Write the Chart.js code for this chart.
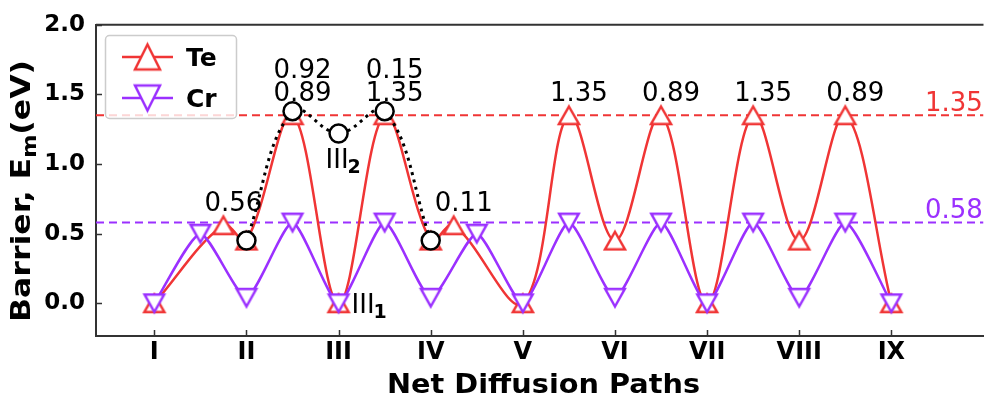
<!DOCTYPE html>
<html>
<head>
<meta charset="utf-8">
<script src="https://cdn.jsdelivr.net/npm/chart.js@4/dist/chart.umd.min.js"></script>
<style>
    html, body { margin: 0; padding: 0; background: #fff; overflow: hidden; }
    canvas { display: block; }
</style>
</head>
<body>
<canvas id="chart" width="996" height="397" style="width:996px;height:397px"></canvas>
<script>
const paths = ["I", "II", "III", "IV", "V", "VI", "VII", "VIII", "IX"];
const yTicks = [0, 0.5, 1.0, 1.5, 2.0];

const teX = [0, 0.75, 1, 1.5, 2, 2.5, 3, 3.25, 4, 4.5, 5, 5.5, 6, 6.5, 7, 7.5, 8];
const teE = [0, 0.56, 0.45, 1.35, 0, 1.35, 0.45, 0.56, 0, 1.35, 0.45, 1.35, 0, 1.35, 0.45, 1.35, 0];
const crX = [0, 0.5, 1, 1.5, 2, 2.5, 3, 3.5, 4, 4.5, 5, 5.5, 6, 6.5, 7, 7.5, 8];
const crE = [0, 0.5, 0.04, 0.58, 0, 0.58, 0.04, 0.5, 0, 0.58, 0.04, 0.58, 0, 0.58, 0.04, 0.58, 0];
const pathX = [1, 1.5, 2, 2.5, 3];
const pathE = [0.45, 1.38, 1.22, 1.38, 0.45];

const teRef = 1.35;
const crRef = 0.58;

// barrier labels sitting over Te points
const noteX = [0.75, 1.5, 2.5, 3.25, 4.5, 5.5, 6.5, 7.5];
const noteLow = ["0.56", "0.89", "1.35", "0.11", "1.35", "0.89", "1.35", "0.89"];
const noteHigh = ["", "0.92", "0.15", "", "", "", "", ""];

const xMin = -0.633, xMax = 9.0;
const yMin = -0.235, yMax = 2.0;

const red = "#f03535";
const purple = "#9b30ff";
const font = "DejaVu Sans";

function triangleMarker(w, h, up, color, lw) {
    let c = document.createElement("canvas");
    c.width = Math.ceil(w + lw * 4);
    c.height = Math.ceil(h + lw * 4);
    let g = c.getContext("2d");
    let cx = c.width / 2, cy = c.height / 2;
    g.beginPath();
    if (up) {
        g.moveTo(cx, cy - h / 2);
        g.lineTo(cx + w / 2, cy + h / 2);
        g.lineTo(cx - w / 2, cy + h / 2);
    } else {
        g.moveTo(cx, cy + h / 2);
        g.lineTo(cx + w / 2, cy - h / 2);
        g.lineTo(cx - w / 2, cy - h / 2);
    }
    g.closePath();
    g.fillStyle = "#fff";
    g.fill();
    g.lineWidth = lw;
    g.strokeStyle = color;
    g.stroke();
    return c;
}

const teMark = triangleMarker(20, 17.5, true, red, 2.5);
const crMark = triangleMarker(19.5, 17.5, false, purple, 2.5);
const teBig = triangleMarker(25, 25, true, red, 2.5);
const crBig = triangleMarker(25, 25, false, purple, 2.5);

function pts(xs, ys) {
    return xs.map((v, i) => ({ x: v, y: ys[i] }));
}

// draws text pieces squeezed/stretched to a given length, centred on the origin
function drawFitted(ctx, parts, length) {
    let total = 0;
    parts.forEach(p => { ctx.font = p[1]; p.w = ctx.measureText(p[0]).width; total += p.w; });
    ctx.scale(length / total, 1);
    let x = -total / 2;
    ctx.textAlign = "left";
    ctx.textBaseline = "alphabetic";
    parts.forEach(p => {
        ctx.font = p[1];
        ctx.fillText(p[0], x, p[2]);
        x += p.w;
    });
}

const overlay = {
    id: "overlay",
    afterDatasetsDraw(chart) {
        let ctx = chart.ctx;
        let a = chart.chartArea;
        let xs = chart.scales.x, ys = chart.scales.y;
        ctx.save();

        // top spine and inward ticks
        ctx.strokeStyle = "#333";
        ctx.lineWidth = 2;
        ctx.beginPath();
        ctx.moveTo(a.left, a.top);
        ctx.lineTo(a.right, a.top);
        ctx.stroke();
        ctx.lineWidth = 1.5;
        ctx.beginPath();
        xs.ticks.forEach(t => {
            let px = Math.round(xs.getPixelForValue(t.value)) + 0.5;
            ctx.moveTo(px, a.bottom);
            ctx.lineTo(px, a.bottom - 6);
        });
        ys.ticks.forEach(t => {
            let py = Math.round(ys.getPixelForValue(t.value)) + 0.5;
            ctx.moveTo(a.left, py);
            ctx.lineTo(a.left + 6, py);
        });
        ctx.stroke();

        // value labels
        ctx.fillStyle = "#000";
        ctx.font = "26px " + font;
        ctx.textAlign = "center";
        ctx.textBaseline = "alphabetic";
        noteX.forEach((nx, i) => {
            let v = teE[teX.indexOf(nx)];
            let px = xs.getPixelForValue(nx) + 10;
            let py = ys.getPixelForValue(v) - 14;
            ctx.fillText(noteLow[i], px, py);
            if (noteHigh[i]) ctx.fillText(noteHigh[i], px, py - 23);
        });

        // site labels III2 and III1
        let sites = [
            [pathX[2], pathE[2], -13, 35, "2"],
            [teX[4], teE[4], 13, 10, "1"]
        ];
        sites.forEach(s => {
            let px = xs.getPixelForValue(s[0]) + s[2];
            let py = ys.getPixelForValue(s[1]) + s[3];
            ctx.textAlign = "left";
            ctx.font = "26px " + font;
            ctx.fillText(paths[2], px, py);
            let w = ctx.measureText(paths[2]).width;
            ctx.font = "bold 19px " + font;
            ctx.fillText(s[4], px + w - 1, py + 5);
        });

        // reference values on the right
        ctx.font = "26px " + font;
        ctx.textAlign = "left";
        ctx.fillStyle = red;
        ctx.fillText(teRef.toFixed(2), 925, ys.getPixelForValue(teRef) - 4);
        ctx.fillStyle = purple;
        ctx.fillText(crRef.toFixed(2), 925, ys.getPixelForValue(crRef) - 5);

        // legend
        ctx.beginPath();
        ctx.roundRect(105.5, 35.5, 131, 83, 4);
        ctx.fillStyle = "rgba(255,255,255,0.8)";
        ctx.fill();
        ctx.strokeStyle = "#cccccc";
        ctx.lineWidth = 1.5;
        ctx.stroke();
        let entries = [[chart.data.datasets[2].label, red, teBig, 57], [chart.data.datasets[3].label, purple, crBig, 98]];
        entries.forEach(e => {
            ctx.strokeStyle = e[1];
            ctx.lineWidth = 2.5;
            ctx.beginPath();
            ctx.moveTo(122, e[3]);
            ctx.lineTo(173, e[3]);
            ctx.stroke();
            ctx.drawImage(e[2], 147.5 - e[2].width / 2, e[3] - e[2].height / 2);
            ctx.fillStyle = "#000";
            ctx.font = "bold 25px " + font;
            ctx.textAlign = "left";
            ctx.fillText(e[0], 186, e[3] + 9);
        });

        // axis titles
        ctx.fillStyle = "#000";
        ctx.save();
        ctx.translate(543.5, 393);
        drawFitted(ctx, [["Net Diffusion Paths", "bold 27px " + font, 0]], 313);
        ctx.restore();
        ctx.save();
        ctx.translate(30, 191);
        ctx.rotate(-Math.PI / 2);
        drawFitted(ctx, [
            ["Barrier, E", "bold 27px " + font, 0],
            ["m", "bold 19px " + font, 6],
            ["(eV)", "bold 27px " + font, 0]
        ], 262);
        ctx.restore();

        ctx.restore();
    }
};

new Chart(document.getElementById("chart"), {
    type: "line",
    data: {
        datasets: [
            {
                label: "Te ref",
                data: pts([xMin, xMax], [teRef, teRef]),
                borderColor: red,
                borderWidth: 2,
                borderDash: [8, 5],
                pointRadius: 0,
                order: 5
            },
            {
                label: "Cr ref",
                data: pts([xMin, xMax], [crRef, crRef]),
                borderColor: purple,
                borderWidth: 2,
                borderDash: [8, 5],
                pointRadius: 0,
                order: 5
            },
            {
                label: "Te",
                data: pts(teX, teE),
                borderColor: red,
                borderWidth: 2.5,
                tension: 0.35,
                pointStyle: teMark,
                pointRadius: 10,
                order: 3
            },
            {
                label: "Cr",
                data: pts(crX, crE),
                borderColor: purple,
                borderWidth: 2.5,
                tension: 0.2,
                pointStyle: crMark,
                pointRadius: 10,
                order: 2
            },
            {
                label: "path",
                data: pts(pathX, pathE),
                borderColor: "#000",
                borderWidth: 3,
                borderDash: [3, 4.5],
                tension: 0.4,
                pointStyle: "circle",
                pointRadius: 9,
                pointBorderWidth: 2.5,
                pointBorderColor: "#000",
                pointBackgroundColor: "#fff",
                order: 1
            }
        ]
    },
    options: {
        responsive: false,
        devicePixelRatio: 1,
        animation: false,
        layout: { padding: { top: 23, right: 2, left: 0, bottom: 0 } },
        plugins: { legend: { display: false }, tooltip: { enabled: false } },
        scales: {
            x: {
                type: "linear",
                min: xMin,
                max: xMax,
                afterFit: s => { s.height = 61; },
                afterBuildTicks: s => { s.ticks = paths.map((p, i) => ({ value: i })); },
                ticks: {
                    callback: (v, i) => paths[i],
                    autoSkip: false,
                    maxRotation: 0,
                    padding: 2,
                    color: "#000",
                    font: { family: font, size: 24, weight: "bold" }
                },
                grid: { drawOnChartArea: false, drawTicks: false },
                border: { color: "#333", width: 2 }
            },
            y: {
                type: "linear",
                min: yMin,
                max: yMax,
                afterFit: s => { s.width = 96; },
                afterBuildTicks: s => { s.ticks = yTicks.map(v => ({ value: v })); },
                ticks: {
                    callback: v => v.toFixed(1),
                    padding: 11,
                    color: "#000",
                    font: { family: font, size: 23, weight: "bold" }
                },
                grid: { drawOnChartArea: false, drawTicks: false },
                border: { color: "#333", width: 2 }
            }
        }
    },
    plugins: [overlay]
});
</script>
</body>
</html>
